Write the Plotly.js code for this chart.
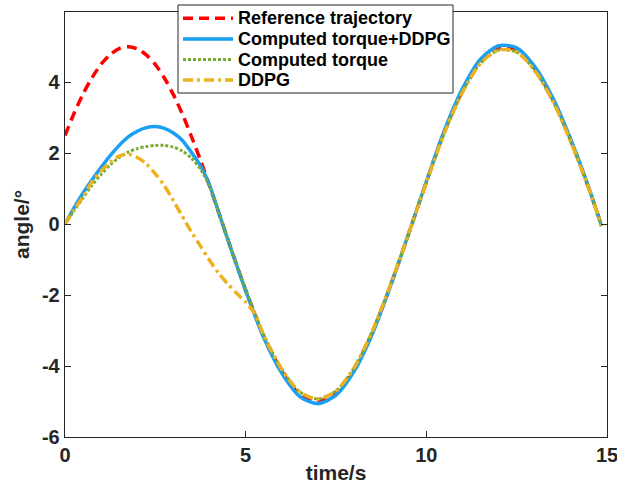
<!DOCTYPE html>
<html>
<head>
<meta charset="utf-8">
<script src="https://cdn.plot.ly/plotly-3.0.1.min.js"></script>
<style>html,body{margin:0;padding:0;background:#fff;}#chart{width:617px;height:484px;}</style>
</head>
<body>
<div id="chart"></div>
<script>
// time samples (s)
var timeS = [0,0.25,0.5,0.75,1,1.25,1.5,1.75,2,2.25,2.5,2.75,3,3.25,3.5,3.75,4,4.25,4.5,4.75,5,5.25,5.5,
  6,6.5,7,7.5,8,8.5,9,9.5,10,10.5,11,11.5,12,12.5,13,13.5,14,14.5,14.85];

var referenceTrajectory = [2.50,3.12,3.67,4.13,4.51,4.78,4.95,5.00,4.94,4.77,4.50,4.12,3.65,3.10,2.47,1.80,1.08,0.34,-0.41,-1.15,-1.86,-2.53,-3.16,
  -4.15,-4.80,-5.00,-4.76,-4.10,-3.07,-1.75,-0.30,1.19,2.61,3.77,4.59,4.97,4.91,4.39,3.52,2.35,1.00,-0.04];

var computedTorqueDDPG = [0,0.46,0.88,1.25,1.60,1.93,2.22,2.46,2.62,2.72,2.75,2.70,2.57,2.36,2.02,1.65,1.10,0.34,-0.42,-1.16,-1.88,-2.56,-3.20,
  -4.20,-4.86,-5.06,-4.82,-4.15,-3.11,-1.77,-0.30,1.20,2.64,3.82,4.65,5.03,4.97,4.44,3.56,2.38,1.02,-0.06];

var computedTorque = [0,0.38,0.74,1.10,1.40,1.67,1.88,2.03,2.13,2.19,2.22,2.22,2.17,2.06,1.86,1.55,1.07,0.34,-0.41,-1.14,-1.84,-2.50,-3.12,
  -4.09,-4.73,-4.93,-4.70,-4.05,-3.03,-1.73,-0.30,1.17,2.57,3.72,4.53,4.91,4.85,4.33,3.47,2.32,0.99,-0.05];

var ddpg = [0,0.40,0.78,1.20,1.50,1.74,1.92,1.97,1.88,1.70,1.42,1.08,0.66,0.22,-0.22,-0.62,-1.02,-1.38,-1.68,-1.95,-2.20,-2.52,-3.14,
  -4.09,-4.73,-4.93,-4.70,-4.05,-3.03,-1.73,-0.30,1.17,2.57,3.72,4.53,4.91,4.85,4.33,3.47,2.32,0.99,-0.05];

var seriesNames = ["Reference trajectory","Computed torque+DDPG","Computed torque","DDPG"];
var xTicks = [0,5,10,15];
var yTicks = [-6,-4,-2,0,2,4];

var font = "Arial, 'Liberation Sans', Helvetica, sans-serif";
var dark = "#262626";
var colors = ["#FF0000", "#1A9FF5", "#77AC30", "#EDB120"];
var dashes = ["10px,6px", "solid", "3px,2px", "10px,4px,3px,4px"];
var widths = [3.5, 3.5, 3, 3.5];
var seriesY = [referenceTrajectory, computedTorqueDDPG, computedTorque, ddpg];

var data = seriesY.map(function (y, i) {
  return {x: timeS, y: y, name: seriesNames[i], type: "scatter", mode: "lines", showlegend: false,
    line: {color: colors[i], width: widths[i], dash: dashes[i], shape: "spline", smoothing: 0.8}};
});

// plot area in pixels (for the drawn legend box)
var M = {l: 65, r: 10, t: 12, b: 47}, W = 617, H = 484;
var pw = W - M.l - M.r, ph = H - M.t - M.b;
function px(x) { return (x - M.l) / pw; }
function py(y) { return (H - M.b - y) / ph; }

var shapes = [{type: "rect", xref: "paper", yref: "paper", layer: "above",
  x0: px(178), x1: px(453), y0: py(93), y1: py(5),
  line: {color: dark, width: 1}, fillcolor: "#fff"}];
var annotations = [];
var rowY = [18.3, 39, 59.5, 80];
seriesNames.forEach(function (n, i) {
  shapes.push({type: "line", xref: "paper", yref: "paper", layer: "above",
    x0: px(183), x1: px(233), y0: py(rowY[i]), y1: py(rowY[i]),
    line: {color: colors[i], width: widths[i], dash: dashes[i]}});
  annotations.push({xref: "paper", yref: "paper", x: px(236), y: py(rowY[i]),
    xanchor: "left", yanchor: "middle", showarrow: false, text: n,
    font: {family: font, size: 18, color: "#000", weight: "bold"}});
});

var axisCommon = {
  showline: true, linecolor: dark, linewidth: 1.3, mirror: "ticks",
  ticks: "inside", ticklen: 6, tickwidth: 1, tickcolor: dark,
  showgrid: false, zeroline: false, ticklabeloverflow: "allow",
  tickfont: {family: font, size: 20, color: dark, weight: "bold"}
};

var layout = {
  width: W, height: H,
  margin: M,
  paper_bgcolor: "#fff", plot_bgcolor: "#fff",
  showlegend: false,
  xaxis: Object.assign({}, axisCommon, {
    range: [0, 15], tickvals: xTicks, ticktext: xTicks.map(String),
    title: {text: "time/s", font: {family: font, size: 21, color: dark, weight: "bold"}, standoff: 0}
  }),
  yaxis: Object.assign({}, axisCommon, {
    range: [-6, 5.98], tickvals: yTicks, ticktext: yTicks.map(String),
    title: {text: "angle/°", font: {family: font, size: 21, color: dark, weight: "bold"}, standoff: 6}
  }),
  shapes: shapes,
  annotations: annotations
};

Plotly.newPlot("chart", data, layout, {displayModeBar: false, staticPlot: true});
</script>
</body>
</html>
